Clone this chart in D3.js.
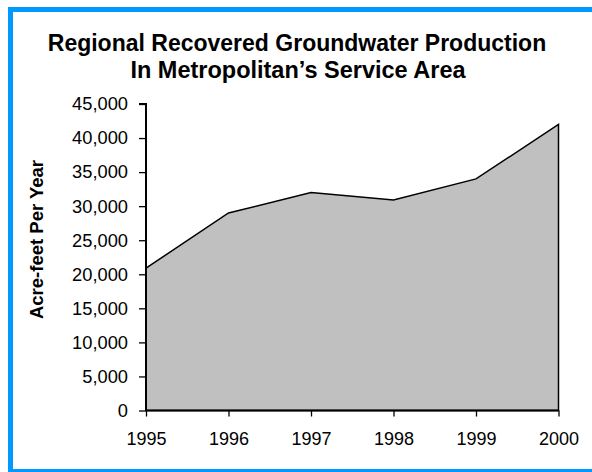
<!DOCTYPE html>
<html>
<head>
<meta charset="utf-8">
<script src="https://cdn.jsdelivr.net/npm/d3@7"></script>
<style>
  html, body { margin: 0; padding: 0; background: #fff; }
  svg { display: block; }
  text { font-family: Arial, "Liberation Sans", sans-serif; fill: #000; }
</style>
</head>
<body>
<svg id="chart" width="592" height="472"></svg>
<script>
const titleLines = ["Regional Recovered Groundwater Production", "In Metropolitan\u2019s Service Area"];
const yAxisTitle = "Acre-feet Per Year";
const years = [1995, 1996, 1997, 1998, 1999, 2000];
const production = [20900, 29000, 32000, 30900, 34000, 42000];
const yTicks = [0, 5000, 10000, 15000, 20000, 25000, 30000, 35000, 40000, 45000];

const svg = d3.select("#chart");

// frame
svg.append("rect")
  .attr("x", 10.5).attr("y", 9.5)
  .attr("width", 700).attr("height", 462)
  .attr("fill", "#fff")
  .attr("stroke", "#0099ff")
  .attr("stroke-width", 5);

// title
svg.append("text")
  .attr("x", 297).attr("y", 51)
  .attr("text-anchor", "middle")
  .style("font-size", "23px").style("font-weight", "bold")
  .text(titleLines[0]);
svg.append("text")
  .attr("x", 298).attr("y", 78)
  .attr("text-anchor", "middle")
  .style("font-size", "23.5px").style("font-weight", "bold")
  .text(titleLines[1]);

const x = d3.scaleLinear().domain([1995, 2000]).range([146, 558.5]);
const y = d3.scaleLinear().domain([0, 45000]).range([410.5, 104]);

const data = years.map((yr, i) => ({ yr, v: production[i] }));

// area
const area = d3.area().x(d => x(d.yr)).y0(y(0)).y1(d => y(d.v));
svg.append("path")
  .datum(data)
  .attr("d", area)
  .attr("fill", "#c0c0c0")
  .attr("stroke", "#000")
  .attr("stroke-width", 1.5)
  .attr("stroke-linejoin", "miter");

// y axis
const yAxis = d3.axisLeft(y)
  .tickValues(yTicks)
  .tickSize(7)
  .tickPadding(11)
  .tickFormat(d3.format(","));
const gy = svg.append("g").attr("transform", "translate(146,0)").call(yAxis);
gy.select(".domain").attr("stroke", "#000").attr("stroke-width", 2).attr("d", `M-7,${y(45000)}H0V${y(0)}`);
gy.selectAll(".tick line").attr("stroke", "#000").attr("stroke-width", 1.3);
gy.selectAll(".tick text").style("font-size", "18.3px").style("font-family", "Arial, 'Liberation Sans', sans-serif").attr("fill", "#000");

// x axis
const xAxis = d3.axisBottom(x)
  .tickValues(years)
  .tickSize(6)
  .tickPadding(16)
  .tickFormat(d3.format("d"));
const gx = svg.append("g").attr("transform", `translate(0,${y(0)})`).call(xAxis);
gx.select(".domain").attr("stroke", "#000").attr("stroke-width", 2).attr("d", `M${x(1995)},0H${x(2000)}`);
gx.selectAll(".tick line").attr("stroke", "#000").attr("stroke-width", 1.3);
gx.selectAll(".tick text").style("font-size", "18px").style("font-family", "Arial, 'Liberation Sans', sans-serif").attr("fill", "#000");

// y axis title
svg.append("text")
  .attr("transform", "translate(43,239.5) rotate(-90)")
  .attr("text-anchor", "middle")
  .style("font-size", "18.5px").style("font-weight", "bold")
  .text(yAxisTitle);
</script>
</body>
</html>
